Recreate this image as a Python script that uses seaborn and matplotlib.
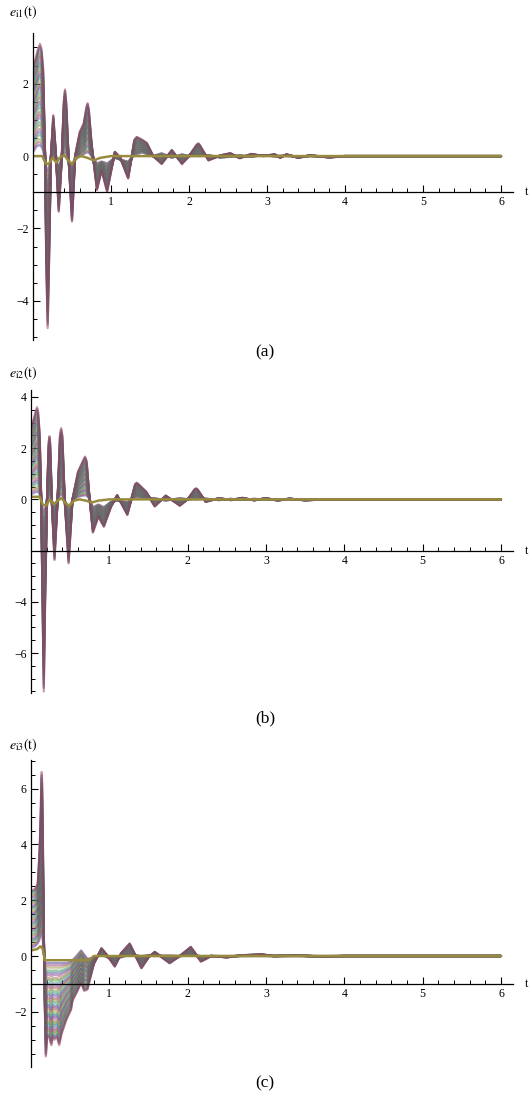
import colorsys
import numpy as np
import pandas as pd
import matplotlib
matplotlib.use("Agg")
import matplotlib.pyplot as plt
import matplotlib.transforms as mtransforms
from matplotlib.ticker import FixedLocator, MultipleLocator
import seaborn as sns

# ---------------- data ----------------
# panel (a): e_i1(t)
ta = [0.00, 0.04, 0.07, 0.09, 0.11, 0.13, 0.155, 0.17, 0.188, 0.205, 0.23, 0.26, 0.295, 0.33, 0.37, 0.395,
      0.41, 0.425, 0.455, 0.50, 0.54, 0.60, 0.65, 0.685, 0.70, 0.715, 0.75, 0.82, 0.88, 0.95, 1.05, 1.12,
      1.22, 1.30, 1.33, 1.40, 1.46, 1.54, 1.65, 1.78, 1.91, 2.00, 2.10, 2.12, 2.14, 2.25, 2.40, 2.53, 2.65,
      2.80, 2.95, 3.10, 3.17, 3.25, 3.40, 3.55, 3.80, 4.00, 6.00]
outer_a = [2.45, 2.75, 3.00, 3.10, 2.95, 2.40, 0.00, -2.90, -4.75, -3.00, 0.00, 1.13, 0.00, -1.54, 0.00, 1.50,
           1.84, 1.50, 0.00, -1.81, 0.00, 0.67, 0.90, 1.35, 1.46, 1.30, 0.36, -0.94, -0.39, -0.99, 0.12, -0.05,
           -0.62, 0.45, 0.53, 0.45, 0.36, 0.00, -0.22, 0.17, -0.22, 0.00, 0.32, 0.35, 0.30, -0.12, 0.02, 0.08, -0.06,
           0.06, 0.00, 0.05, -0.05, 0.05, -0.05, 0.02, -0.04, 0.00, 0.00]
inner_a = [0.10, 0.25, 0.30, 0.30, 0.25, 0.15, -0.10, -0.30, -0.40, -0.30, -0.10, 0.05, -0.10, -0.30, -0.05, 0.08,
           0.10, 0.08, -0.10, -0.30, -0.10, 0.00, 0.05, 0.10, 0.10, 0.10, 0.00, -0.20, -0.15, -0.20, -0.05, -0.10,
           -0.15, 0.03, 0.05, 0.10, 0.05, 0.00, 0.08, -0.05, 0.05, 0.00, 0.00, 0.00, 0.00, 0.03, -0.04, -0.02, 0.02,
           -0.02, 0.03, -0.01, 0.01, 0.00, 0.00, 0.00, 0.00, 0.00, 0.00]
tba = [0.00, 0.12, 0.16, 0.20, 0.25, 0.30, 0.34, 0.40, 0.45, 0.50, 0.55, 0.62, 0.70, 0.78, 0.86, 1.00, 6.00]
base_a = [0.00, 0.00, -0.20, -0.22, -0.05, -0.18, -0.05, 0.03, -0.12, -0.22, -0.05, 0.00, -0.05, -0.12, -0.05, 0.00, 0.00]

# panel (b): e_i2(t)
tb = [0.00, 0.04, 0.065, 0.077, 0.09, 0.11, 0.13, 0.145, 0.163, 0.18, 0.205, 0.225, 0.235, 0.245, 0.265, 0.30,
      0.34, 0.37, 0.385, 0.40, 0.43, 0.48, 0.53, 0.60, 0.67, 0.69, 0.71, 0.74, 0.79, 0.86, 0.93, 1.02, 1.10,
      1.23, 1.33, 1.35, 1.37, 1.47, 1.58, 1.72, 1.90, 2.00, 2.09, 2.11, 2.13, 2.23, 2.40, 2.55, 2.70, 2.85,
      3.00, 3.15, 3.30, 3.50, 3.75, 4.00, 6.00]
outer_b = [2.80, 3.20, 3.50, 3.60, 3.45, 2.60, 0.00, -3.50, -7.50, -4.00, 0.00, 2.20, 2.47, 2.20, 0.00, -2.37,
           0.00, 2.50, 2.78, 2.50, 0.00, -2.50, 0.00, 1.08, 1.55, 1.67, 1.50, 0.30, -1.30, -0.67, -1.07, -0.30, 0.17,
           -0.61, 0.60, 0.65, 0.60, 0.30, -0.28, 0.15, -0.25, 0.00, 0.40, 0.43, 0.38, -0.10, 0.05, -0.03, 0.06, -0.04,
           0.05, -0.05, 0.03, -0.04, 0.00, 0.00, 0.00]
inner_b = [0.20, 0.25, 0.30, 0.30, 0.30, 0.20, 0.00, -0.30, -0.50, -0.35, -0.05, 0.12, 0.15, 0.12, -0.05, -0.30,
           0.00, 0.15, 0.20, 0.15, -0.05, -0.30, -0.05, 0.10, 0.15, 0.15, 0.15, 0.05, -0.30, -0.20, -0.30, -0.10, -0.05,
           -0.10, 0.08, 0.10, 0.08, 0.05, 0.05, -0.05, 0.05, 0.00, 0.00, 0.00, 0.00, 0.03, -0.03, 0.02, -0.02, 0.02,
           -0.01, 0.01, 0.00, 0.00, 0.00, 0.00, 0.00]
tbb = [0.00, 0.11, 0.15, 0.19, 0.24, 0.29, 0.34, 0.39, 0.44, 0.49, 0.55, 0.62, 0.70, 0.78, 0.86, 1.00, 6.00]
base_b = [0.10, 0.10, -0.20, -0.25, 0.00, -0.20, -0.05, 0.05, -0.15, -0.25, -0.05, 0.00, -0.05, -0.12, -0.05, 0.00, 0.00]

# panel (c): e_i3(t)
tc = [0.00, 0.05, 0.086, 0.11, 0.125, 0.132, 0.137, 0.142, 0.15, 0.165, 0.178, 0.19, 0.205, 0.23, 0.26, 0.28,
      0.30, 0.33, 0.36, 0.39, 0.45, 0.51, 0.53, 0.58, 0.64, 0.68, 0.72, 0.80, 0.90, 0.98, 1.07, 1.15, 1.26,
      1.41, 1.50, 1.58, 1.77, 1.90, 2.04, 2.17, 2.30, 2.50, 2.70, 2.95, 3.10, 3.40, 3.70, 4.00, 6.00]
outer_c = [2.35, 2.40, 2.60, 3.80, 5.20, 6.30, 6.60, 6.20, 4.50, 0.50, -2.00, -3.60, -2.90, -2.90, -3.20, -2.90,
           -3.00, -2.90, -3.20, -2.80, -2.30, -1.94, -1.60, -1.33, -0.97, -1.25, -1.20, -0.30, 0.28, 0.00, -0.38, 0.10,
           0.45, -0.44, -0.05, 0.15, -0.26, 0.00, 0.33, -0.20, 0.00, -0.05, 0.03, 0.06, 0.00, 0.02, -0.02, 0.00, 0.00]
inner_c = [0.30, 0.35, 0.45, 0.60, 0.80, 0.88, 0.90, 0.85, 0.60, 0.10, -0.20, -0.25, -0.25, -0.25, -0.25, -0.25,
           -0.25, -0.25, -0.25, -0.25, -0.25, -0.20, -0.15, 0.00, 0.20, 0.05, -0.10, -0.05, 0.05, -0.05, 0.00, -0.05,
           0.05, 0.00, 0.03, 0.00, 0.02, 0.00, 0.03, 0.00, 0.00, 0.00, 0.00, 0.00, 0.00, 0.00, 0.00, 0.00, 0.00]
tbc = [0.00, 0.08, 0.12, 0.15, 0.175, 0.20, 0.75, 0.80, 6.00]
base_c = [0.20, 0.25, 0.35, 0.25, -0.15, -0.15, -0.15, 0.00, 0.00]

# weights of the family of trajectories between inner and outer envelopes
weights = [0.00, 0.03, 0.06, 0.10, 0.13, 0.16, 0.20, 0.23, 0.27, 0.30, 0.33, 0.37, 0.40, 0.43, 0.47, 0.50,
           0.53, 0.57, 0.60, 0.63, 0.67, 0.70, 0.73, 0.77, 0.80, 0.83, 0.87, 0.90, 0.93, 0.96, 0.98, 1.00]

y_major_a = [-4, -2, 0, 2]
y_major_b = [-6, -4, 0, 2, 4]
y_major_c = [-2, 0, 2, 4, 6]
x_major = [1, 2, 3, 4, 5, 6]

# ---------------- style ----------------
sns.set_theme(style="ticks")
plt.rcParams["font.family"] = ["Liberation Serif", "DejaVu Serif"]
plt.rcParams["mathtext.fontset"] = "stix"

W, H = 530, 1098
fig = plt.figure(figsize=(W / 100, H / 100), dpi=100)
fig.patch.set_facecolor("white")

# Mathematica-like default colours (golden-ratio hue steps, S=V=0.6)
family_colors = [colorsys.hsv_to_rgb((0.67 + k * 0.2360679775) % 1.0, 0.6, 0.6) for k in range(len(weights))]
olive = colorsys.hsv_to_rgb(0.1421, 0.6, 0.6)


def make_axes(x0, x1, y0, y1):
    return fig.add_axes([x0 / W, 1 - y1 / H, (x1 - x0) / W, (y1 - y0) / H])


def draw_panel(ax, t, outer, inner, tbase, base, ylim, cross, yticks, ylabel, ylab_y, caption, cap_y):
    t = np.asarray(t)
    outer = np.asarray(outer)
    inner = np.asarray(inner)
    frames = []
    for k, w in enumerate(weights):
        frames.append(pd.DataFrame({"t": t, "e": inner + w * (outer - inner), "curve": k}))
    df = pd.concat(frames, ignore_index=True)
    sns.lineplot(data=df, x="t", y="e", hue="curve", palette=family_colors, estimator=None,
                 sort=False, legend=False, linewidth=1.6, alpha=0.5, ax=ax)
    sns.lineplot(x=tbase, y=base, color=olive, linewidth=1.8, estimator=None, sort=False, ax=ax)

    ax.set_xlim(0, 480 / 78)
    ax.set_ylim(*ylim)
    ax.set_xlabel("")
    ax.set_ylabel("")
    ax.set_facecolor("none")
    for s in ["top", "right"]:
        ax.spines[s].set_visible(False)
    ax.spines["bottom"].set_position(("data", cross))
    for s in ["bottom", "left"]:
        ax.spines[s].set_color("black")
        ax.spines[s].set_linewidth(0.9)

    ax.xaxis.set_major_locator(FixedLocator(x_major))
    ax.xaxis.set_minor_locator(MultipleLocator(0.2))
    ax.yaxis.set_major_locator(FixedLocator(yticks))
    ax.yaxis.set_minor_locator(MultipleLocator(0.5))
    ax.set_xticklabels([str(v) for v in x_major])
    ax.set_yticklabels(["\u2212" + str(-v) if v < 0 else str(v) for v in yticks])
    ax.tick_params(axis="both", which="major", direction="in", length=5, width=0.8,
                   labelsize=8.5, colors="black", pad=3)
    ax.tick_params(axis="both", which="minor", direction="in", length=3, width=0.7, colors="black")
    ax.tick_params(axis="x", which="both", bottom=True, top=False)
    ax.tick_params(axis="y", which="both", left=True, right=False)

    tr = mtransforms.blended_transform_factory(ax.transAxes, ax.transData)
    ax.text(1.029, cross, "t", transform=tr, ha="center", va="center", fontsize=8.5, color="black")
    fig.text(9 / W, 1 - ylab_y / H, ylabel, ha="left", va="center", fontsize=10, color="black")
    fig.text(265 / W, 1 - cap_y / H, caption, ha="center", va="center", fontsize=12.5, color="black")


ax_a = make_axes(33, 513, 33, 340)
draw_panel(ax_a, ta, outer_a, inner_a, tba, base_a, (-5.08, 3.40), -1, y_major_a,
           r"$e_{\mathrm{i1}}\mathrm{(t)}$", 12, "(a)", 352)

ax_b = make_axes(31, 513, 390, 693)
draw_panel(ax_b, tb, outer_b, inner_b, tbb, base_b, (-7.56, 4.27), -2, y_major_b,
           r"$e_{\mathrm{i2}}\mathrm{(t)}$", 373, "(b)", 718)

ax_c = make_axes(31, 513, 760, 1067)
draw_panel(ax_c, tc, outer_c, inner_c, tbc, base_c, (-3.98, 7.03), -1, y_major_c,
           r"$e_{\mathrm{i3}}\mathrm{(t)}$", 745, "(c)", 1083)

fig.savefig("out.png", dpi=100, facecolor="white")
